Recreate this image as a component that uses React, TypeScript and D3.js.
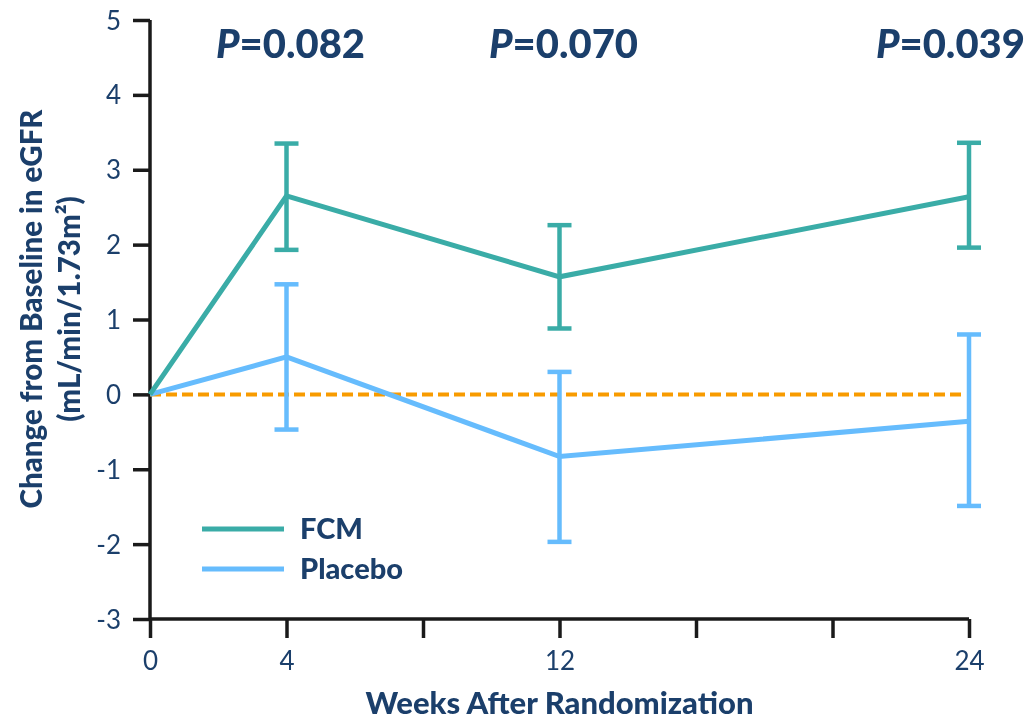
import React from "react";
import * as d3 from "d3";

const weeks = [0, 4, 12, 24];
const fcmMean = [0, 2.65, 1.57, 2.64];
const fcmLow = [0, 1.93, 0.88, 1.96];
const fcmHigh = [0, 3.35, 2.26, 3.36];
const placeboMean = [0, 0.5, -0.83, -0.36];
const placeboLow = [0, -0.47, -1.97, -1.49];
const placeboHigh = [0, 1.47, 0.3, 0.8];
const pWeeks = [4, 12, 24];
const pValues = ["0.082", "0.070", "0.039"];
const xTicks = [0, 4, 8, 12, 16, 20, 24];
const xTickLabels = ["0", "4", "", "12", "", "", "24"];
const yTicks = [-3, -2, -1, 0, 1, 2, 3, 4, 5];

const width = 1028;
const height = 720;
const fcmColor = "#3aaca7";
const placeboColor = "#66bcfd";
const refColor = "#f89b00";
const textColor = "#1b3f6b";
const axisColor = "#1a1a1a";
const font = "Lato, 'Noto Sans', sans-serif";

export default function App() {
  const svgRef = React.useRef<SVGSVGElement>(null);

  React.useEffect(() => {
    const svg = d3.select(svgRef.current);
    svg.selectAll("*").remove();

    const x = d3.scaleLinear().domain([0, 24]).range([150, 969]);
    const y = d3.scaleLinear().domain([-3, 5]).range([619, 20]);

    // axes
    const yAxis = svg.append("g").attr("transform", `translate(${x(0)},0)`)
      .call(d3.axisLeft(y).tickValues(yTicks).tickSize(17).tickPadding(12).tickFormat(d => String(d)));
    const xAxis = svg.append("g").attr("transform", `translate(0,${y(-3)})`)
      .call(d3.axisBottom(x).tickValues(xTicks).tickSize(19).tickPadding(14).tickFormat((d, i) => xTickLabels[i]));

    [yAxis, xAxis].forEach(g => {
      g.select(".domain").attr("stroke", axisColor).attr("stroke-width", 3.5);
      g.selectAll(".tick line").attr("stroke", axisColor).attr("stroke-width", 3.5);
      g.selectAll(".tick text").attr("fill", textColor).style("font-family", font).style("font-size", "26px");
    });
    yAxis.select(".domain").attr("d", `M0,${y(5)}V${y(-3)}`);
    xAxis.select(".domain").attr("d", `M${x(0)},0H${x(24)}`);
    yAxis.selectAll(".tick text").attr("dy", "0.35em");

    // zero reference
    svg.append("line")
      .attr("x1", x(0)).attr("x2", x(24) - 6)
      .attr("y1", y(0)).attr("y2", y(0))
      .attr("stroke", refColor).attr("stroke-width", 4)
      .attr("stroke-dasharray", "11,5");

    const drawSeries = (mean: number[], low: number[], high: number[], color: string) => {
      const line = d3.line<number>().x((d, i) => x(weeks[i])).y(d => y(d));
      svg.append("path").datum(mean).attr("d", line)
        .attr("fill", "none").attr("stroke", color).attr("stroke-width", 5)
        .attr("stroke-linejoin", "miter");
      weeks.forEach((w, i) => {
        if (w === 0) return;
        const g = svg.append("g").attr("stroke", color).attr("stroke-width", 4.5);
        g.append("line").attr("x1", x(w)).attr("x2", x(w)).attr("y1", y(low[i])).attr("y2", y(high[i]));
        g.append("line").attr("x1", x(w) - 12).attr("x2", x(w) + 12).attr("y1", y(low[i])).attr("y2", y(low[i]));
        g.append("line").attr("x1", x(w) - 12).attr("x2", x(w) + 12).attr("y1", y(high[i])).attr("y2", y(high[i]));
      });
    };
    drawSeries(placeboMean, placeboLow, placeboHigh, placeboColor);
    drawSeries(fcmMean, fcmLow, fcmHigh, fcmColor);

    // p values
    pWeeks.forEach((w, i) => {
      const last = i === pWeeks.length - 1;
      const t = svg.append("text")
        .attr("x", last ? width - 3 : x(w) + 4)
        .attr("y", 58)
        .attr("text-anchor", last ? "end" : "middle")
        .attr("fill", textColor)
        .style("font-family", font).style("font-size", "40px").style("font-weight", 900);
      t.append("tspan").style("font-style", "italic").text("P");
      t.append("tspan").text("=" + pValues[i]);
    });

    // legend
    const legend = [{ name: "FCM", color: fcmColor }, { name: "Placebo", color: placeboColor }];
    legend.forEach((d, i) => {
      const ly = 529 + i * 40;
      svg.append("line").attr("x1", 202).attr("x2", 284).attr("y1", ly).attr("y2", ly)
        .attr("stroke", d.color).attr("stroke-width", 5);
      svg.append("text").attr("x", 300).attr("y", ly + 10).attr("fill", textColor)
        .style("font-family", font).style("font-size", "29px").style("font-weight", 900)
        .text(d.name);
    });

    // axis titles
    svg.append("text").attr("x", (x(0) + x(24)) / 2).attr("y", 714).attr("text-anchor", "middle")
      .attr("fill", textColor).style("font-family", font).style("font-size", "31px").style("font-weight", 900)
      .text("Weeks After Randomization");

    const yt = svg.append("text").attr("transform", `translate(0,309) rotate(-90)`)
      .attr("text-anchor", "middle").attr("fill", textColor)
      .style("font-family", font).style("font-size", "29.5px").style("font-weight", 900);
    yt.append("tspan").attr("x", 0).attr("y", 42).text("Change from Baseline in eGFR");
    yt.append("tspan").attr("x", 0).attr("y", 80).text("(mL/min/1.73m²)");
  }, []);

  return (
    <svg ref={svgRef} width={width} height={height} style={{ position: "fixed", left: 0, top: 0 }} />
  );
}
